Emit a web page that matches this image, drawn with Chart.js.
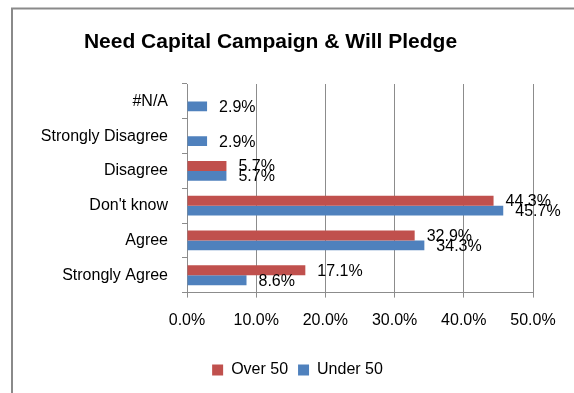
<!DOCTYPE html>
<html>
<head>
<meta charset="utf-8">
<script src="https://cdn.jsdelivr.net/npm/chart.js"></script>
<style>
  html, body { margin: 0; padding: 0; background: #fff; }
</style>
</head>
<body>
<canvas id="chart" width="574" height="393"></canvas>
<script>
const categories = ["#N/A", "Strongly Disagree", "Disagree", "Don't know", "Agree", "Strongly Agree"];
const seriesNames = ["Over 50", "Under 50"];
const over50 = [null, null, 5.7, 44.3, 32.9, 17.1];
const under50 = [2.9, 2.9, 5.7, 45.7, 34.3, 8.6];
const xMin = 0;
const xMax = 50;
const xStep = 10;

const gridColor = "#8c8c8c";
const baseFont = "'Liberation Sans', Arial, sans-serif";

// outer chart frame (only left and top edges are visible in the picture)
const framePlugin = {
  id: "frame",
  beforeDraw(chart) {
    const ctx = chart.ctx;
    ctx.save();
    ctx.fillStyle = "#fff";
    ctx.fillRect(0, 0, chart.width, chart.height);
    ctx.strokeStyle = "#8a8a8a";
    ctx.lineWidth = 2;
    ctx.beginPath();
    ctx.moveTo(12, chart.height);
    ctx.lineTo(12, 8.5);
    ctx.lineTo(chart.width, 8.5);
    ctx.stroke();
    ctx.restore();
  },
};

// value labels at the end of each bar
const valueLabels = {
  id: "valueLabels",
  afterDatasetsDraw(chart) {
    const ctx = chart.ctx;
    ctx.save();
    ctx.font = "16px " + baseFont;
    ctx.fillStyle = "#000";
    ctx.textAlign = "left";
    ctx.textBaseline = "middle";
    chart.data.datasets.forEach((ds, i) => {
      chart.getDatasetMeta(i).data.forEach((bar, j) => {
        const v = ds.data[j];
        if (v === null || v === undefined) return;
        ctx.fillText(v.toFixed(1) + "%", bar.x + 12, bar.y + 1);
      });
    });
    ctx.restore();
  },
};

// legend sits a bit right of the title centre
const legendShift = {
  id: "legendShift",
  afterLayout(chart) {
    chart.legend.left += 27;
    chart.legend.right += 27;
  },
};

new Chart(document.getElementById("chart"), {
  type: "bar",
  data: {
    labels: categories,
    datasets: [
      {
        label: seriesNames[0],
        data: over50,
        backgroundColor: "#C0504D",
        categoryPercentage: 0.57,
        barPercentage: 1.0,
      },
      {
        label: seriesNames[1],
        data: under50,
        backgroundColor: "#4F81BD",
        categoryPercentage: 0.57,
        barPercentage: 1.0,
      },
    ],
  },
  options: {
    indexAxis: "y",
    responsive: false,
    animation: false,
    layout: { padding: { left: 8, right: 41, top: 0, bottom: 5 } },
    plugins: {
      title: {
        display: true,
        text: "Need Capital Campaign & Will Pledge",
        color: "#000",
        font: { family: baseFont, size: 21, weight: "bold" },
        padding: { top: 30, bottom: 28.8 },
      },
      legend: {
        position: "bottom",
        labels: {
          color: "#000",
          font: { family: baseFont, size: 16 },
          boxWidth: 11,
          boxHeight: 11,
          padding: 10,
        },
      },
      tooltip: { enabled: false },
    },
    scales: {
      x: {
        type: "linear",
        min: xMin,
        max: xMax,
        ticks: {
          stepSize: xStep,
          color: "#000",
          font: { family: baseFont, size: 16 },
          padding: 13,
          maxRotation: 0,
          callback: (v) => v.toFixed(1) + "%",
        },
        grid: { color: gridColor, tickLength: 5 },
        border: { color: gridColor },
        afterFit: (s) => { s.height = 59.4; },
      },
      y: {
        type: "category",
        ticks: {
          color: "#000",
          font: { family: baseFont, size: 16 },
          padding: 14,
        },
        grid: { color: gridColor, drawOnChartArea: false, tickLength: 5, offset: true },
        border: { color: gridColor },
        afterFit: (s) => { s.width = 179; },
      },
    },
  },
  plugins: [framePlugin, valueLabels, legendShift],
});
</script>
</body>
</html>
